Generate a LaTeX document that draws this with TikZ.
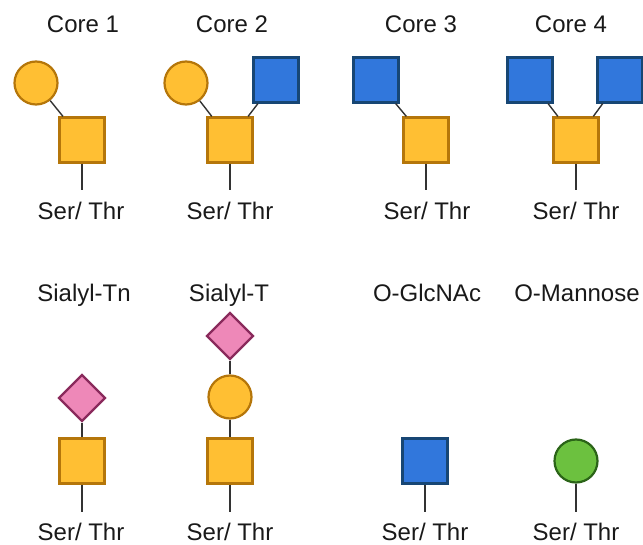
\documentclass[tikz,border=0pt]{standalone}
\usepackage{fontspec}
\setmainfont{Liberation Sans}
\usetikzlibrary{shapes.geometric}
\definecolor{galfill}{HTML}{FFBF33}
\definecolor{galdraw}{HTML}{B5760A}
\definecolor{glcfill}{HTML}{3177DC}
\definecolor{glcdraw}{HTML}{174674}
\definecolor{siafill}{HTML}{EE88B8}
\definecolor{siadraw}{HTML}{8A2A5C}
\definecolor{manfill}{HTML}{6CC13F}
\definecolor{mandraw}{HTML}{2B6418}
\definecolor{bondcol}{HTML}{333333}

\begin{document}
\begin{tikzpicture}[x=1pt, y=-1pt,
      sugar/.style={inner sep=0pt, line width=2.2pt},
      galnac/.style={sugar, rectangle, minimum size=45pt, fill=galfill, draw=galdraw},
      glcnac/.style={sugar, rectangle, minimum size=45pt, fill=glcfill, draw=glcdraw},
      gal/.style={sugar, circle, minimum size=43pt, fill=galfill, draw=galdraw},
      man/.style={sugar, circle, minimum size=43pt, fill=manfill, draw=mandraw},
      sia/.style={sugar, diamond, minimum size=47pt, fill=siafill, draw=siadraw},
      lbl/.style={anchor=base, font=\fontsize{24}{28}\selectfont, text=black!90},
      bond/.style={line width=1.4pt, draw=bondcol}
  ]
    \useasboundingbox (0,0) rectangle (643,545);
    % top row
    \node[lbl] (t1) at (83,33) {Core 1};
    \node[lbl] (t2) at (232,33) {Core 2};
    \node[lbl] (t3) at (421,33) {Core 3};
    \node[lbl] (t4) at (571,33) {Core 4};
    \node[gal] (c1a) at (36,83) {};
    \node[galnac] (c1r) at (82,140) {};
    \node[gal] (c2a) at (186,83) {};
    \node[glcnac] (c2b) at (276,80) {};
    \node[galnac] (c2r) at (230,140) {};
    \node[glcnac] (c3a) at (376,80) {};
    \node[galnac] (c3r) at (426,140) {};
    \node[glcnac] (c4a) at (530,80) {};
    \node[glcnac] (c4b) at (620,80) {};
    \node[galnac] (c4r) at (576,140) {};
    \coordinate (e1) at (82,190);
    \coordinate (e2) at (230,190);
    \coordinate (e3) at (426,190);
    \coordinate (e4) at (576,190);
    \node[lbl] (s1) at (81,220) {Ser/ Thr};
    \node[lbl] (s2) at (230,220) {Ser/ Thr};
    \node[lbl] (s3) at (427,220) {Ser/ Thr};
    \node[lbl] (s4) at (576,220) {Ser/ Thr};
    % bottom row
    \node[lbl] (t5) at (84,302) {Sialyl-Tn};
    \node[lbl] (t6) at (229,302) {Sialyl-T};
    \node[lbl] (t7) at (427,302) {O-GlcNAc};
    \node[lbl] (t8) at (577,302) {O-Mannose};
    \node[sia] (d5a) at (82,398) {};
    \node[galnac] (d5r) at (82,461) {};
    \node[sia] (d6a) at (230,336) {};
    \node[gal] (d6b) at (230,397) {};
    \node[galnac] (d6r) at (230,461) {};
    \node[glcnac] (d7r) at (425,461) {};
    \node[man] (d8r) at (576,461) {};
    \coordinate (e5) at (82,512);
    \coordinate (e6) at (230,512);
    \coordinate (e7) at (425,512);
    \coordinate (e8) at (576,512);
    \node[lbl] (s5) at (81,540) {Ser/ Thr};
    \node[lbl] (s6) at (230,540) {Ser/ Thr};
    \node[lbl] (s7) at (425,540) {Ser/ Thr};
    \node[lbl] (s8) at (576,540) {Ser/ Thr};
    % bonds
    \draw[bond] (c1a) -- (c1r); \draw[bond] (c1r) -- (e1);
    \draw[bond] (c2a) -- (c2r); \draw[bond] (c2b) -- (c2r); \draw[bond] (c2r) -- (e2);
    \draw[bond] (c3a) -- (c3r); \draw[bond] (c3r) -- (e3);
    \draw[bond] (c4a) -- (c4r); \draw[bond] (c4b) -- (c4r); \draw[bond] (c4r) -- (e4);
    \draw[bond] (d5a) -- (d5r); \draw[bond] (d5r) -- (e5);
    \draw[bond] (d6a) -- (d6b); \draw[bond] (d6b) -- (d6r); \draw[bond] (d6r) -- (e6);
    \draw[bond] (d7r) -- (e7);
    \draw[bond] (d8r) -- (e8);
  \end{tikzpicture}
\end{document}
